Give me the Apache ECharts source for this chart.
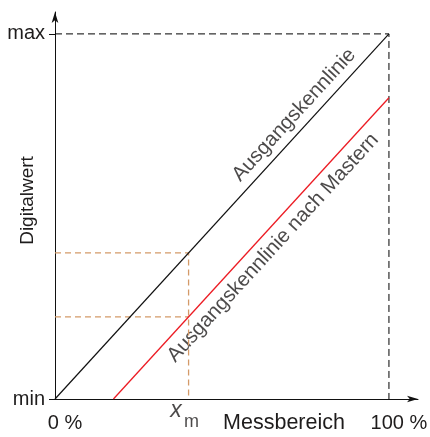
<!DOCTYPE html>
<html><head><meta charset="utf-8">
<script src="https://cdn.jsdelivr.net/npm/echarts@6/dist/echarts.min.js"></script>
<style>html,body{margin:0;padding:0;background:#fff}#c{width:430px;height:437px}</style>
</head><body><div id="c"></div>
<script>
// ---- data ----
const xTickValues = [0, 100];
const xTickLabels = ['0 %', '100 %'];
const yTickValues = [0, 100];
const yTickLabels = ['min', 'max'];
const xAxisTitle = 'Messbereich';
const yAxisTitle = 'Digitalwert';
const idealCurve = [[0, 0], [100, 100]];
const masteredCurve = [[17.5, 0], [100, 82.5]];
const frameLine = [[0, 100], [100, 100], [100, 0]];
const xm = 40;
const idealAtXm = 40;
const masteredAtXm = 22.5;
const curveNames = ['Ausgangskennlinie', 'Ausgangskennlinie nach Mastern'];
const curveLabelAnchors = [[71.6, 77.8], [65.3, 41.4]];

const FONT = '"Liberation Sans", Arial, Helvetica, sans-serif';
const TXT = '#1e1c1c';
const ANGLE = 47.5;

const chart = echarts.init(document.getElementById('c'), null, {renderer: 'canvas'});
chart.setOption({
  animation: false,
  backgroundColor: '#fff',
  textStyle: {fontFamily: FONT},
  grid: {left: 55, right: 12, top: 12, bottom: 38, containLabel: false, outerBoundsMode: 'none'},
  xAxis: {
    type: 'value', min: 0, max: 108.7,
    splitLine: {show: false},
    axisLine: {show: true, lineStyle: {color: '#111', width: 1}, symbol: ['none', 'arrow'], symbolSize: [5, 11]},
    axisTick: {show: false},
    axisLabel: {
      customValues: xTickValues, margin: 14, color: TXT, fontSize: 20, fontFamily: FONT,
      formatter: v => '{a|' + xTickLabels[xTickValues.indexOf(v)] + '}',
      rich: {a: {fontSize: 20, fontFamily: FONT, color: TXT, padding: [0, 0, 0, 20]}}
    },
    name: xAxisTitle, nameLocation: 'middle', nameGap: 13, nameMoveOverlap: false,
    nameTextStyle: {fontSize: 21.5, color: TXT, fontFamily: FONT, verticalAlign: 'top', padding: [0, 0, 0, 95]}
  },
  yAxis: {
    type: 'value', min: 0, max: 106,
    splitLine: {show: false},
    axisLine: {show: true, lineStyle: {color: '#111', width: 1}, symbol: ['none', 'arrow'], symbolSize: [5, 11]},
    axisTick: {show: true, customValues: yTickValues, length: 6, lineStyle: {color: '#111'}},
    axisLabel: {
      customValues: yTickValues, margin: 10, color: TXT, fontSize: 20, fontFamily: FONT,
      formatter: v => yTickLabels[yTickValues.indexOf(v)]
    },
    name: yAxisTitle, nameLocation: 'middle', nameGap: 27, nameRotate: 90, nameMoveOverlap: false,
    nameTextStyle: {fontSize: 19, color: TXT, fontFamily: FONT, verticalAlign: 'middle', padding: [0, 0, 0, 10]}
  },
  series: [
    {type: 'line', data: frameLine, symbol: 'none', silent: true,
     lineStyle: {color: '#000', width: 1, type: [7, 4]}},
    {type: 'line', data: [[0, idealAtXm], [xm, idealAtXm], [xm, 0]], symbol: 'none', silent: true,
     lineStyle: {color: '#d49a68', width: 1.3, type: [6, 4]}},
    {type: 'line', data: [[0, masteredAtXm], [xm, masteredAtXm]], symbol: 'none', silent: true,
     lineStyle: {color: '#d49a68', width: 1.3, type: [6, 4]}},
    {type: 'line', data: idealCurve, symbol: 'none', silent: true,
     lineStyle: {color: '#111', width: 1.2}},
    {type: 'line', data: masteredCurve, symbol: 'none', silent: true,
     lineStyle: {color: '#ec1c24', width: 1.3}},
    {type: 'scatter', symbolSize: 0, silent: true,
     label: {show: true, position: 'inside', color: TXT, fontFamily: FONT, fontSize: 20, align: 'center', verticalAlign: 'middle'},
     data: [
       {value: curveLabelAnchors[0], label: {formatter: curveNames[0], rotate: ANGLE, fontSize: 20.5}},
       {value: curveLabelAnchors[1], label: {formatter: curveNames[1], rotate: ANGLE, fontSize: 20.5}},
       {value: [xm, 0], label: {formatter: 'x', fontStyle: 'italic', fontSize: 23, offset: [-12.6, 12]}},
       {value: [xm, 0], label: {formatter: 'm', fontSize: 18, offset: [3, 23]}}
     ]}
  ]
});
</script></body></html>
